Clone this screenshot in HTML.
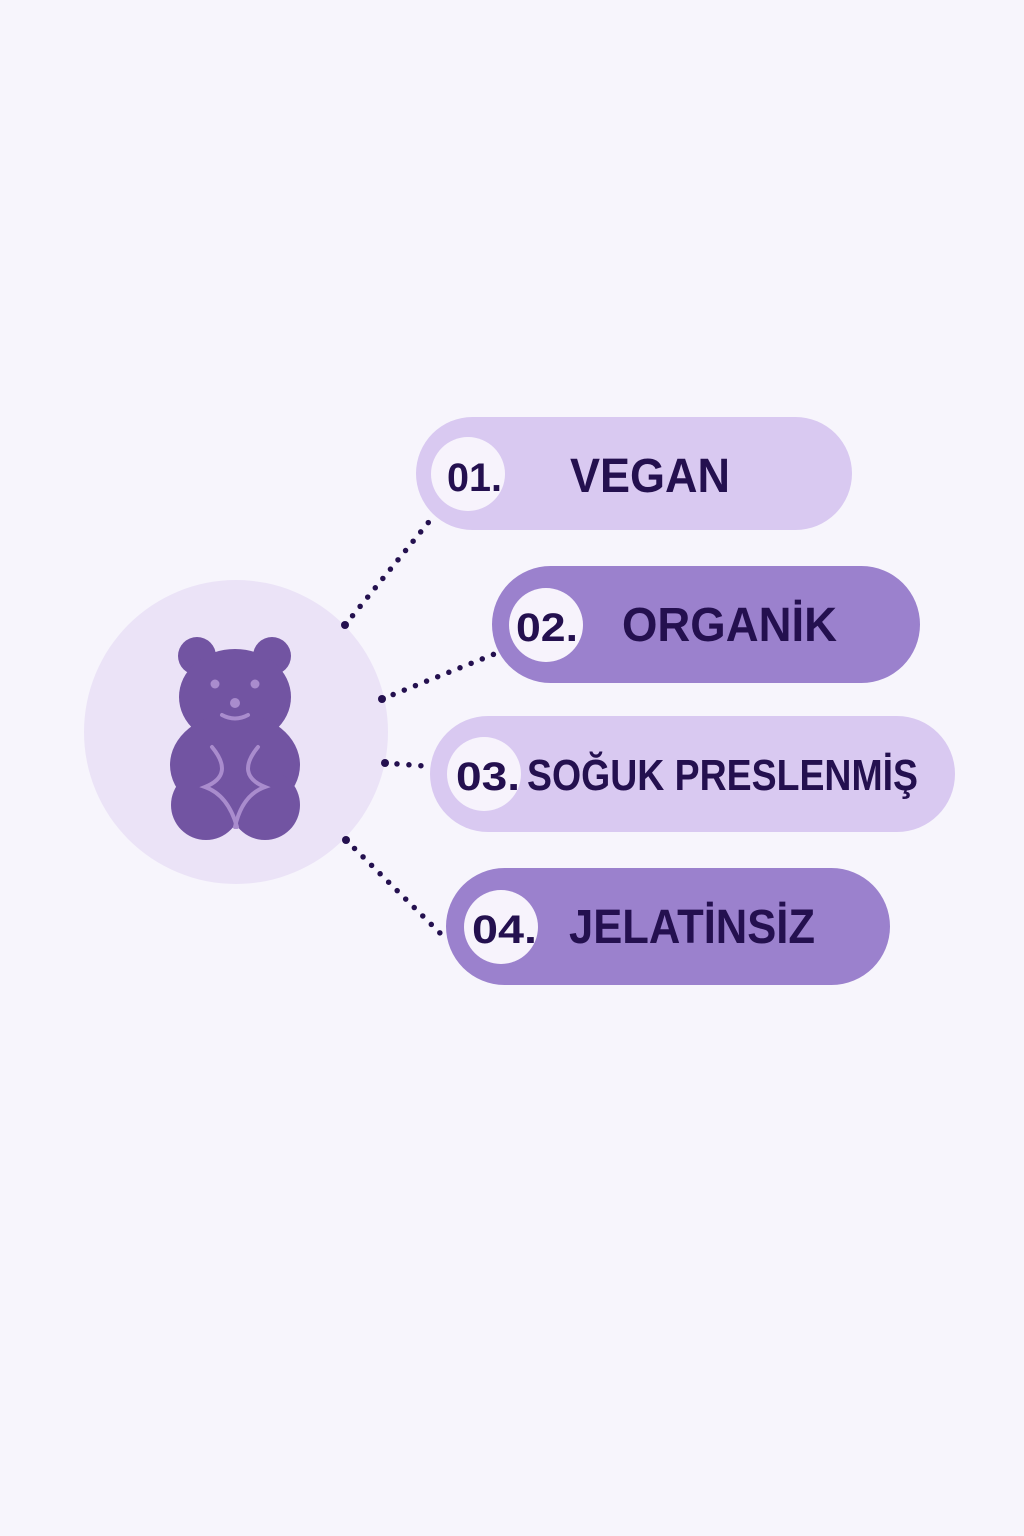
<!DOCTYPE html>
<html><head><meta charset="utf-8"><style>
html,body{margin:0;padding:0;background:#f7f5fc;}
svg{display:block}
text{font-family:"Liberation Sans","DejaVu Sans",sans-serif;font-weight:bold;fill:#24104f}
</style></head><body>
<svg width="1024" height="1536" viewBox="0 0 1024 1536">
<rect width="1024" height="1536" fill="#f7f5fc"/>
<circle cx="236" cy="732" r="152" fill="#ebe3f7"/>
<g fill="#7254a2">
<circle cx="197" cy="656" r="19"/><circle cx="272" cy="656" r="19"/>
<ellipse cx="235" cy="697" rx="56" ry="48"/>
<ellipse cx="235" cy="765" rx="65" ry="52"/>
<circle cx="206" cy="805" r="35"/><circle cx="265" cy="805" r="35"/>
</g>
<g fill="#a98ccd"><circle cx="215" cy="684" r="4.5"/><circle cx="255" cy="684" r="4.5"/><circle cx="235" cy="703" r="5"/></g>
<g fill="none" stroke="#a98ccd" stroke-width="4" stroke-linecap="round">
<path d="M222 715 Q235 722 248 715"/>
<path d="M212 747 Q235 775 205 787 Q228 795 237 827"/>
<path d="M258 747 Q235 775 265 787 Q242 795 235 827"/>
</g>
<g stroke="#24104f" stroke-width="5.5" stroke-linecap="round" stroke-dasharray="0 12" fill="none">
<line x1="345" y1="625" x2="432" y2="518"/>
<line x1="382" y1="699" x2="497" y2="653"/>
<line x1="385" y1="763" x2="425" y2="766"/>
<line x1="346" y1="840" x2="442" y2="935"/>
</g>
<g fill="#24104f"><circle cx="345" cy="625" r="4"/><circle cx="382" cy="699" r="4"/><circle cx="385" cy="763" r="4"/><circle cx="346" cy="840" r="4"/></g>
<rect x="416" y="417" width="436" height="113" rx="56.5" fill="#d9c9f1"/>
<rect x="492" y="566" width="428" height="117" rx="58.5" fill="#9b81cd"/>
<rect x="430" y="716" width="525" height="116" rx="58" fill="#d9c9f1"/>
<rect x="446" y="868" width="444" height="117" rx="58.5" fill="#9b81cd"/>
<g fill="#f7f3fc"><circle cx="468" cy="474" r="37"/><circle cx="546" cy="625" r="37"/><circle cx="484" cy="774" r="37"/><circle cx="501" cy="927" r="37"/></g>
<text x="447" y="491" font-size="40" textLength="55" lengthAdjust="spacingAndGlyphs">01.</text>
<text x="516" y="641" font-size="40" textLength="62" lengthAdjust="spacingAndGlyphs">02.</text>
<text x="456" y="790" font-size="40" textLength="64" lengthAdjust="spacingAndGlyphs">03.</text>
<text x="472" y="943" font-size="40" textLength="65" lengthAdjust="spacingAndGlyphs">04.</text>
<text x="570" y="492" font-size="48" textLength="160" lengthAdjust="spacingAndGlyphs">VEGAN</text>
<text x="622" y="641" font-size="48" textLength="215" lengthAdjust="spacingAndGlyphs">ORGANİK</text>
<text x="527" y="790" font-size="44" textLength="391" lengthAdjust="spacingAndGlyphs">SOĞUK PRESLENMİŞ</text>
<text x="569" y="943" font-size="48" textLength="246" lengthAdjust="spacingAndGlyphs">JELATİNSİZ</text>
</svg>
</body></html>
